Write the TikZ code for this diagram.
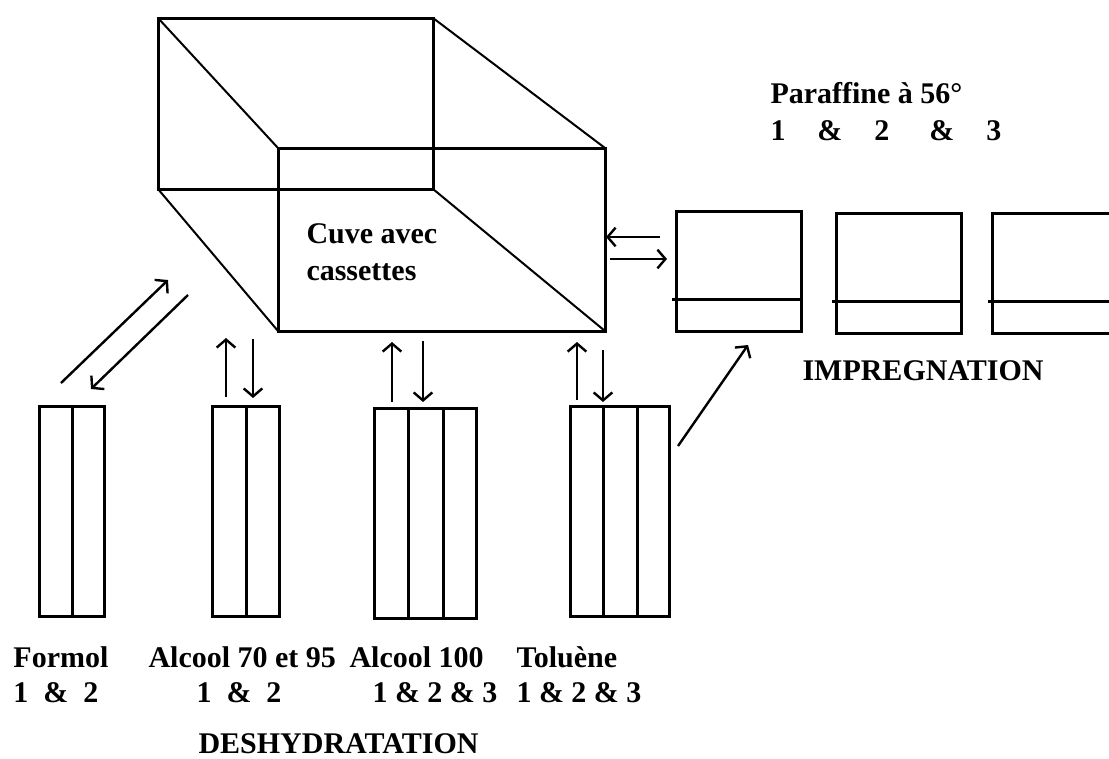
\documentclass[tikz,border=0pt]{standalone}
\usepackage{fontspec}
\setmainfont{Liberation Serif}
\usetikzlibrary{arrows.meta,calc}

\tikzset{every picture/.style={line width=0.75pt}}
\tikzset{
  bac/.style={draw, line width=2.25pt, inner sep=0pt, anchor=north west, minimum height=157.5pt},
  trait/.style={line width=2.25pt},
  diag/.style={line width=1.5pt},
  fleche/.style={line width=1.8pt, -{Straight Barb[length=6pt,width=14pt,line width=1.8pt]}},
  etiq/.style={anchor=base west, inner sep=0pt, font=\fontsize{22.5}{27}\selectfont\bfseries}
}

\begin{document}
\begin{tikzpicture}[x=0.75pt,y=0.75pt,yscale=-1,xscale=1]
\useasboundingbox (0,0) rectangle (1109,758);

%Shape: Cube (back face, front face, edges)
\draw [trait] (158,18) rectangle (433,189) ;
\draw [trait] (278,148) rectangle (605,331) ;
\draw [diag] (158,18) -- (278,148) ;
\draw [diag] (433,18) -- (605,148) ;
\draw [diag] (158,189) -- (278,331) ;
\draw [diag] (433,189) -- (605,331) ;

% Text Node
\node [etiq] (cuveA) at (306,243) {Cuve avec};
\node [etiq] (cuveB) at (306,280) {cassettes};

%Shape: Tanks
\node [bac, minimum width=48.75pt] (formol) at (38,405) {};
\node [bac, minimum width=50.25pt] (alcoolA) at (211,405) {};
\node [bac, minimum width=76.5pt] (alcoolB) at (373,407) {};
\node [bac, minimum width=74.25pt] (toluene) at (569,405) {};

\draw [trait] (formol.north) -- (formol.south) ;
\draw [trait] (alcoolA.north) -- (alcoolA.south) ;
\draw [trait] ($(alcoolB.north west)!1/3!(alcoolB.north east)$) -- ($(alcoolB.south west)!1/3!(alcoolB.south east)$) ;
\draw [trait] ($(alcoolB.north west)!2/3!(alcoolB.north east)$) -- ($(alcoolB.south west)!2/3!(alcoolB.south east)$) ;
\draw [trait] ($(toluene.north west)!1/3!(toluene.north east)$) -- ($(toluene.south west)!1/3!(toluene.south east)$) ;
\draw [trait] ($(toluene.north west)!2/3!(toluene.north east)$) -- ($(toluene.south west)!2/3!(toluene.south east)$) ;

%Shape: Paraffine baths
\node [bac, minimum width=93.75pt, minimum height=90pt] (paraA) at (675,210) {};
\node [bac, minimum width=93.75pt, minimum height=90pt] (paraB) at (835,212) {};
\node [bac, minimum width=93.75pt, minimum height=90pt] (paraC) at (991,212) {};

\draw [trait] ([xshift=-2.25pt]$(paraA.north west)!0.725!(paraA.south west)$) -- ($(paraA.north east)!0.725!(paraA.south east)$) ;
\draw [trait] ([xshift=-2.25pt]$(paraB.north west)!0.725!(paraB.south west)$) -- ($(paraB.north east)!0.725!(paraB.south east)$) ;
\draw [trait] ([xshift=-2.25pt]$(paraC.north west)!0.725!(paraC.south west)$) -- ($(paraC.north east)!0.725!(paraC.south east)$) ;

%Arrow ends
\coordinate (fo1) at (61,383) ;
\coordinate (fo2) at (168,280) ;
\coordinate (fo3) at (188,295) ;
\coordinate (fo4) at (91,389) ;
\coordinate (al1) at (226,397) ;
\coordinate (al2) at (226,338) ;
\coordinate (al3) at (253,339) ;
\coordinate (al4) at (253,398) ;
\coordinate (ab1) at (392,402) ;
\coordinate (ab2) at (392,342) ;
\coordinate (ab3) at (423,341) ;
\coordinate (ab4) at (423,402) ;
\coordinate (to1) at (577,400) ;
\coordinate (to2) at (577,342) ;
\coordinate (to3) at (603,350) ;
\coordinate (to4) at (603,402) ;
\coordinate (pa1) at (660,237) ;
\coordinate (pa2) at (606,237) ;
\coordinate (pa3) at (610,259) ;
\coordinate (pa4) at (667,259) ;
\coordinate (tp1) at (678,446) ;
\coordinate (tp2) at (748,345) ;

%Straight Lines (arrows)
\draw [fleche] (fo1) -- (fo2) ;
\draw [fleche] (fo3) -- (fo4) ;
\draw [fleche] (al1) -- (al2) ;
\draw [fleche] (al3) -- (al4) ;
\draw [fleche] (ab1) -- (ab2) ;
\draw [fleche] (ab3) -- (ab4) ;
\draw [fleche] (to1) -- (to2) ;
\draw [fleche] (to3) -- (to4) ;
\draw [fleche] (pa1) -- (pa2) ;
\draw [fleche] (pa3) -- (pa4) ;
\draw [fleche] (tp1) -- (tp2) ;

% Text Node
\node [etiq] (paraffine) at (770,103) {Paraffine à 56°};
\node [etiq] (paranum) at (770,140) {1\hspace{24pt}\&\hspace{24pt}2\hspace{30pt}\&\hspace{24pt}3};
\node [etiq] (impreg) at (802,380) {IMPREGNATION};

% Text Node
\node [etiq] (formolT) at (13,667) {Formol};
\node [etiq] (formolN) at (13,702) {1\ \ \&\ \ 2};
\node [etiq] (alcoolAT) at (148,667) {Alcool 70 et 95};
\node [etiq] (alcoolAN) at (196,702) {1\ \ \&\ \ 2};
\node [etiq] (alcoolBT) at (349,667) {Alcool 100};
\node [etiq] (alcoolBN) at (372,702) {1 \& 2 \& 3};
\node [etiq] (tolueneT) at (516,667) {Toluène};
\node [etiq] (tolueneN) at (516,702) {1 \& 2 \& 3};
\node [etiq] (deshyd) at (198,753) {DESHYDRATATION};

\end{tikzpicture}
\end{document}
